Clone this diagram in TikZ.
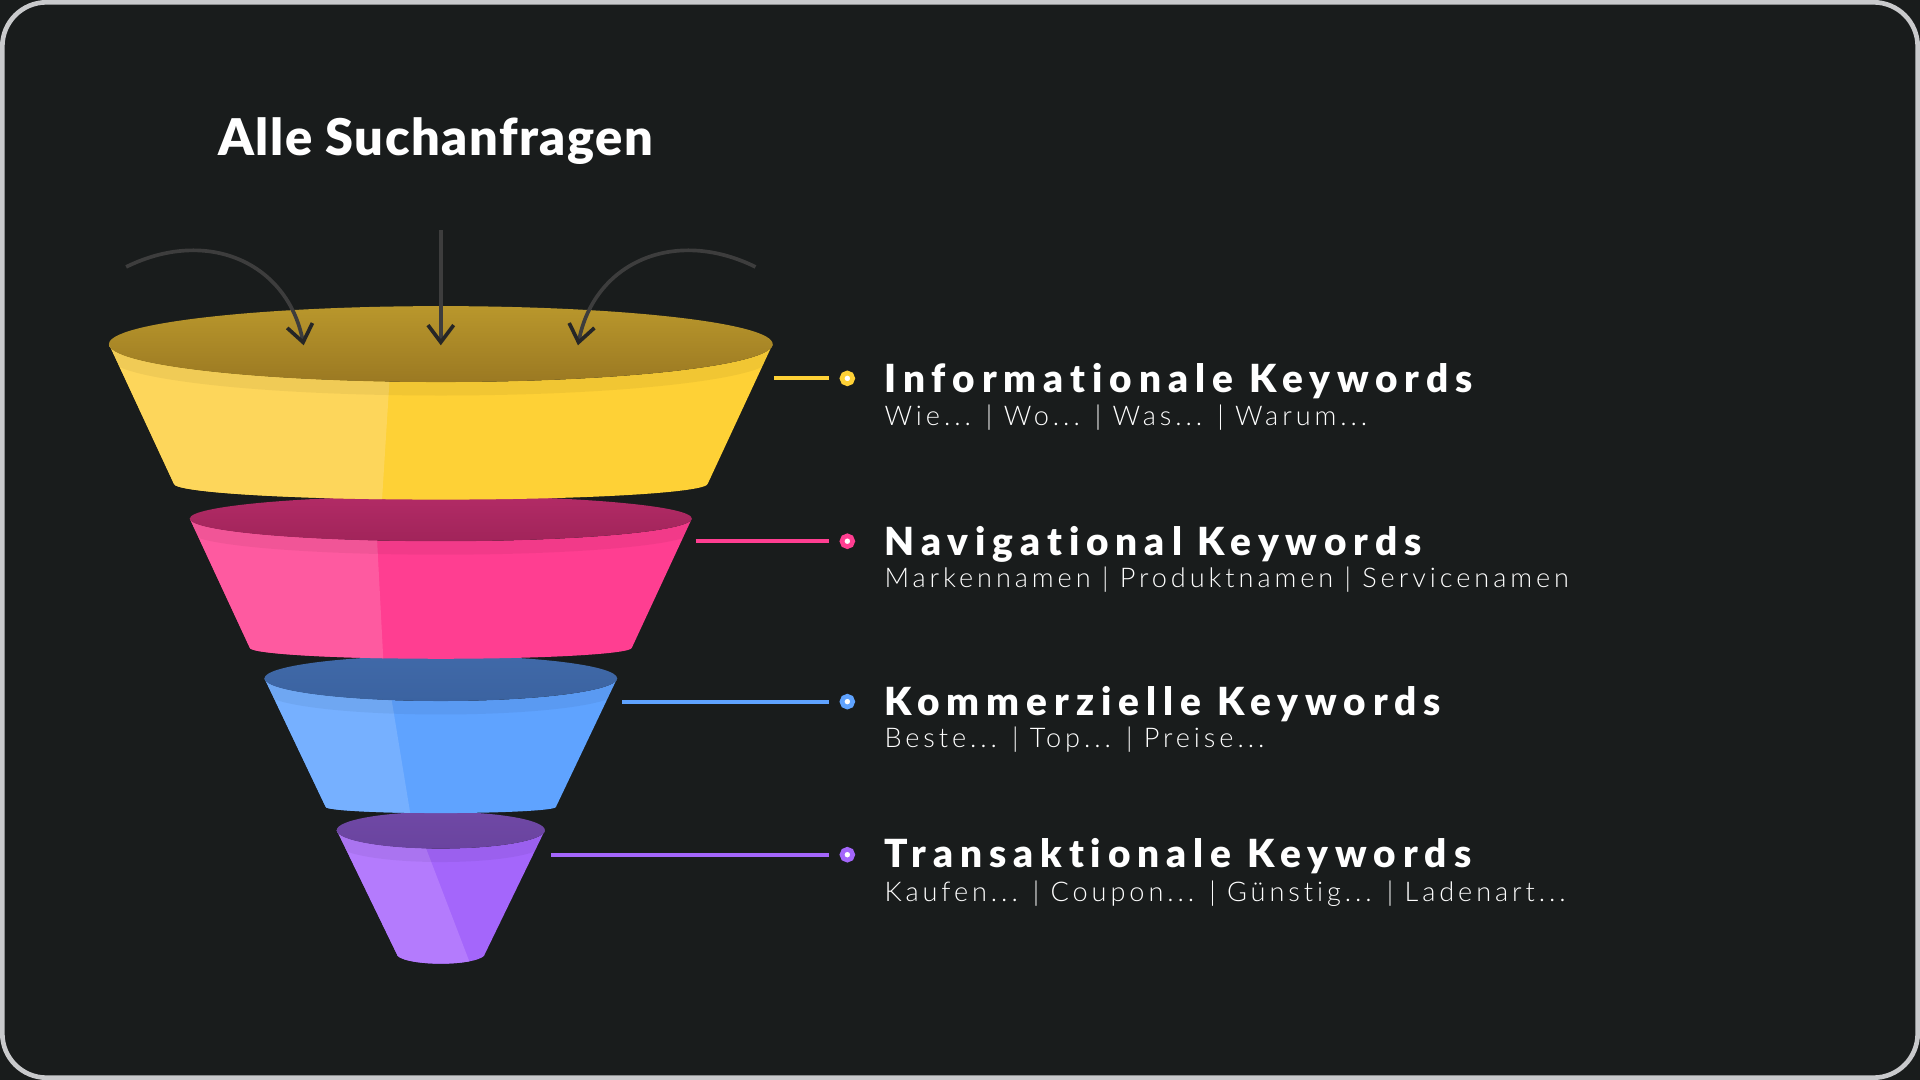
\documentclass[tikz,border=0pt]{standalone}
\usepackage{fontspec}
\usepackage{xcolor}
\usepackage{tikz}
\usetikzlibrary{calc}
\usetikzlibrary{arrows.meta}
\setmainfont{Lato}
\newfontfamily\titlefont{Lato Black}[LetterSpace=3,Ligatures={NoCommon}]
\newfontfamily\headfont{Lato Black}[LetterSpace=18,Ligatures={NoCommon}]
\newfontfamily\subfont{Lato Light}[LetterSpace=14.5,Ligatures={NoCommon}]
\definecolor{bgdark}{HTML}{191C1C}
\definecolor{framegray}{HTML}{C9CACC}
\definecolor{arrowgray}{HTML}{3D3D3D}
\definecolor{arrowtip}{HTML}{262626}
\definecolor{yelright}{HTML}{FED136}
\definecolor{yelleft}{HTML}{FDD65B}
\definecolor{yelin}{HTML}{B9972C}
\definecolor{yelout}{HTML}{9B7922}
\definecolor{pinkright}{HTML}{FF3E91}
\definecolor{pinkleft}{HTML}{FE5AA0}
\definecolor{pinkin}{HTML}{B22B66}
\definecolor{pinkout}{HTML}{A1245A}
\definecolor{blueright}{HTML}{5FA3FF}
\definecolor{blueleft}{HTML}{76B0FF}
\definecolor{bluein}{HTML}{4069A8}
\definecolor{blueout}{HTML}{3B63A1}
\definecolor{purpright}{HTML}{A466FB}
\definecolor{purpleft}{HTML}{B47BFD}
\definecolor{purpin}{HTML}{6F48A5}
\definecolor{purpout}{HTML}{6A449F}
\newcommand{\funnelpart}[9]{
\fill[#1right] (360-#3,#2) -- (360-#6,#5) arc[start angle=180,end angle=0,x radius=#6,y radius=#7] -- (360+#3,#2) arc[start angle=0,end angle=180,x radius=#3,y radius=#4] -- cycle;
\begin{scope}
\clip (360-#3,#2) -- (360-#6,#5) arc[start angle=180,end angle=0,x radius=#6,y radius=#7] -- (360+#3,#2) arc[start angle=0,end angle=180,x radius=#3,y radius=#4] -- cycle;
\fill[#1left] (0,#2-#4-20) -- ($(#8,#2+#4)!-1!(#9,#5+#7)$) -- ($(#9,#5+#7)!-1!(#8,#2+#4)$) -- (0,#5+#7+20) -- cycle;
\fill[black,opacity=0.05] (360-#3,#2) arc[start angle=180,end angle=0,x radius=#3,y radius=#4] -- (360+#3,#2+11) arc[start angle=0,end angle=180,x radius=#3,y radius=#4] -- cycle;
\end{scope}
\shade[top color=#1in,bottom color=#1out] (360,#2) ellipse[x radius=#3,y radius=#4];
}
\tikzset{
  keyhead/.style={anchor=base west,inner sep=0,text=white,font=\headfont\fontsize{18}{20}\selectfont},
  keysub/.style={anchor=base west,inner sep=0,text=white,font=\subfont\fontsize{12.6}{14}\selectfont},
  keydot/.style={circle,fill=white,draw=#1,line width=0.76mm,minimum size=1.76mm,inner sep=0},
  keyline/.style={draw=#1,line width=0.66mm,shorten >=1.7mm},
  inarrow/.style={draw=arrowgray,line width=0.6mm,-{Straight Barb[length=2.8mm,width=4.2mm,line width=0.6mm,color=arrowtip]}}
}
\begin{document}
\begin{tikzpicture}[x=0.2mm,y=-0.2mm]
\fill[bgdark] (0,0) rectangle (1568,882);
\draw[framegray,line width=0.76mm,rounded corners=7.2mm] (1.9,1.9) rectangle (1566.1,880.1);
\node[anchor=base west,inner sep=0,text=white,font=\titlefont\fontsize{23.5}{25}\selectfont] at (178,126.6) (title) {Alle Suchanfragen};
\funnelpart{purp}{678}{85}{15}{779}{36}{8}{348}{384}
\funnelpart{blue}{554}{144}{18.5}{659}{94}{5}{320}{335}
\funnelpart{pink}{423.5}{205}{18.5}{529}{156}{9}{308}{313}
\funnelpart{yel}{281}{271}{31}{395}{218}{13}{318}{312}
\coordinate (leftin) at (103,218);
\coordinate (lefttip) at (248,282);
\coordinate (midin) at (360,188);
\coordinate (midtip) at (360,282);
\coordinate (rightin) at (617,218);
\coordinate (righttip) at (472,282);
\draw[inarrow] (leftin) .. controls (170,185) and (235,215) .. (lefttip);
\draw[inarrow] (midin) -- (midtip);
\draw[inarrow] (rightin) .. controls (550,185) and (485,215) .. (righttip);
\coordinate (infoedge) at (632,309);
\coordinate (naviedge) at (568,442);
\coordinate (kommedge) at (508,573);
\coordinate (transedge) at (450,698);
\node[keydot=yelright] at (692,309) (infodot) {};
\node[keydot=pinkright] at (692,442) (navidot) {};
\node[keydot=blueright] at (692,573) (kommdot) {};
\node[keydot=purpright] at (692,698) (transdot) {};
\draw[keyline=yelright] (infoedge) -- (infodot);
\draw[keyline=pinkright] (naviedge) -- (navidot);
\draw[keyline=blueright] (kommedge) -- (kommdot);
\draw[keyline=purpright] (transedge) -- (transdot);
\node[keyhead] at (722,320.7) (info) {Informationale Keywords};
\node[keysub] at (722,347.5) (infosub) {Wie... | Wo... | Was... | Warum...};
\node[keyhead] at (722,453.5) (navi) {Navigational Keywords};
\node[keysub] at (722,480) (navisub) {Markennamen | Produktnamen | Servicenamen};
\node[keyhead] at (722,584) (komm) {Kommerzielle Keywords};
\node[keysub] at (722,610.5) (kommsub) {Beste... | Top... | Preise...};
\node[keyhead] at (722,708.5) (trans) {Transaktionale Keywords};
\node[keysub] at (722,736) (transsub) {Kaufen... | Coupon... | Günstig... | Ladenart...};
\end{tikzpicture}
\end{document}
